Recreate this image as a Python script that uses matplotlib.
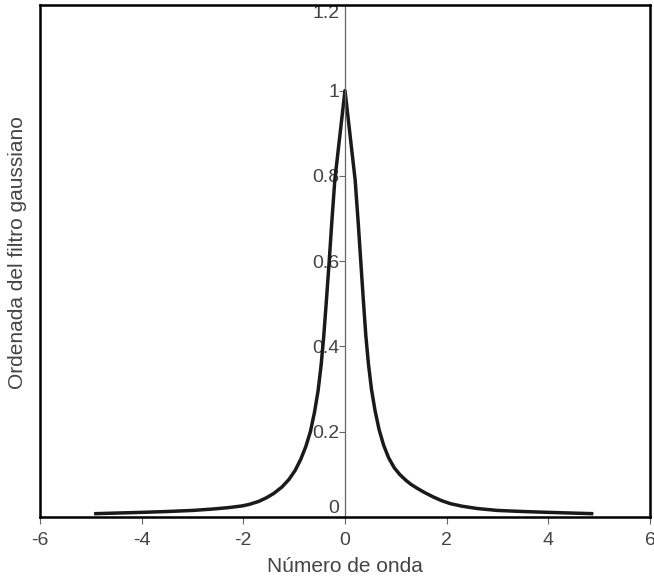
import numpy as np
from matplotlib import pyplot as plt

# curve, left and right half
x_left = [-4.9, -4.0, -3.5, -3.0, -2.6, -2.3, -2.03, -1.89, -1.7, -1.54, -1.4, -1.24,
          -1.1, -0.98, -0.87, -0.77, -0.68, -0.6, -0.53, -0.47, -0.42, -0.37, -0.31,
          -0.26, -0.2, -0.1, 0.0]
y_left = [0.0075, 0.0105, 0.0125, 0.015, 0.0183, 0.0215, 0.0255, 0.029, 0.036, 0.045,
          0.055, 0.070, 0.088, 0.109, 0.135, 0.165, 0.200, 0.245, 0.295, 0.355, 0.420,
          0.500, 0.600, 0.690, 0.790, 0.895, 1.0]
x_right = [0.1, 0.2, 0.26, 0.31, 0.36, 0.41, 0.46, 0.52, 0.59, 0.67, 0.76, 0.86, 0.97,
           1.08, 1.2, 1.3, 1.42, 1.55, 1.73, 1.9, 2.07, 2.3, 2.6, 3.0, 3.5, 4.0, 4.85]
y_right = [0.895, 0.790, 0.690, 0.600, 0.510, 0.425, 0.360, 0.300, 0.250, 0.205, 0.168,
           0.138, 0.115, 0.099, 0.0855, 0.076, 0.067, 0.058, 0.047, 0.038, 0.031, 0.025,
           0.0195, 0.015, 0.0125, 0.0105, 0.0075]

x_ticks = [-6, -4, -2, 0, 2, 4, 6]
x_tick_labels = ['-6', '-4', '-2', '0', '2', '4', '6']
y_ticks = [0, 0.2, 0.4, 0.6, 0.8, 1, 1.2]
y_tick_labels = ['0', '0.2', '0.4', '0.6', '0.8', '1', '1.2']

txt = '#444444'
plt.rcParams['font.family'] = ['Liberation Sans', 'DejaVu Sans']

fig = plt.figure(figsize=(6.54, 5.84), dpi=100)
ax = fig.add_axes([0.061, 0.115, 0.933, 0.876])

ax.plot(x_left + x_right, y_left + y_right, color='#1a1a1a', linewidth=2.5,
        solid_joinstyle='round')

ax.set_xlim(-6, 6)
ax.set_ylim(0, 1.2)

# y axis sits at x = 0, frame stays around the plot
ax.spines['left'].set_position(('data', 0))
ax.spines['left'].set_color('#666666')
ax.spines['left'].set_linewidth(0.9)
ax.axvline(-6, color='black', linewidth=1.8, clip_on=False)
for s in ['top', 'right', 'bottom']:
    ax.spines[s].set_color('black')
    ax.spines[s].set_linewidth(1.8)

ax.set_xticks(x_ticks)
ax.set_xticklabels(x_tick_labels)
ax.set_yticks(y_ticks)
ax.set_yticklabels(y_tick_labels)
ax.tick_params(axis='y', direction='out', length=4, width=0.8, color='#666666',
               labelsize=14, labelcolor=txt, pad=0)
ax.tick_params(axis='x', direction='out', length=5, width=0.8, color='#666666',
               labelsize=14, labelcolor=txt, pad=6)
labs = ax.get_yticklabels()
labs[0].set_va('bottom')
labs[-1].set_va('top')

ax.set_xlabel('Número de onda', fontsize=15, color=txt, labelpad=6)
fig.text(0.027, 0.568, 'Ordenada del filtro gaussiano', rotation=90, fontsize=15,
         color=txt, ha='center', va='center')

fig.savefig('out.png', dpi=100)
